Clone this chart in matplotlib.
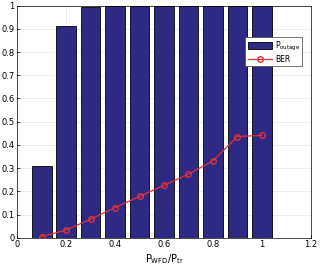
import matplotlib.pyplot as plt
import numpy as np

ratio = [0.1, 0.2, 0.3, 0.4, 0.5, 0.6, 0.7, 0.8, 0.9, 1.0]
p_outage = [0.31, 0.913, 0.995, 1.0, 1.0, 1.0, 1.0, 1.0, 1.0, 1.0]
ber = [0.005, 0.033, 0.08, 0.13, 0.178, 0.226, 0.274, 0.331, 0.436, 0.441]

plt.rcParams['font.family'] = 'DejaVu Sans'
fig = plt.figure(figsize=(3.22, 2.66), dpi=100)
ax = fig.add_axes([17.3/322, 1 - 237.7/266, (310.7-17.3)/322, (237.7-5.7)/266])

bars = ax.bar(ratio, p_outage, width=0.08, color='#2e2a84', edgecolor='black', linewidth=0.6,
              label=r'P$_{\mathrm{outage}}$', zorder=2)
line, = ax.plot(ratio, ber, '-o', color='#e0303a', markerfacecolor='none', markersize=4,
                linewidth=0.9, label='BER', zorder=3)

ax.set_xlim(0, 1.2)
ax.set_ylim(0, 1)
ax.set_xticks(np.arange(0, 1.21, 0.2))
ax.set_xticklabels(['0', '0.2', '0.4', '0.6', '0.8', '1', '1.2'])
ax.set_yticks(np.arange(0, 1.01, 0.1))
ax.set_yticklabels(['0', '0.1', '0.2', '0.3', '0.4', '0.5', '0.6', '0.7', '0.8', '0.9', '1'])
ax.tick_params(labelsize=6, direction='in', length=2, width=0.5, pad=2)
ax.grid(True, color='#e6e6e6', linewidth=0.5, zorder=0)
ax.set_axisbelow(True)
for s in ax.spines.values():
    s.set_linewidth(0.5)
ax.set_xlabel(r'P$_{\mathrm{WFD}}$/P$_{\mathrm{tr}}$', fontsize=7, labelpad=2)

# legend: outage first, then BER
leg = ax.legend([bars, line], [r'P$_{\mathrm{outage}}$', 'BER'], loc='upper right',
                bbox_to_anchor=(0.985, 0.88), fontsize=5.5, fancybox=False,
                edgecolor='#444444', framealpha=1, handlelength=3.2, handleheight=1.0,
                borderpad=0.3, labelspacing=0.3, handletextpad=0.4)
leg.get_frame().set_linewidth(0.5)

fig.savefig('out.png', dpi=100)
